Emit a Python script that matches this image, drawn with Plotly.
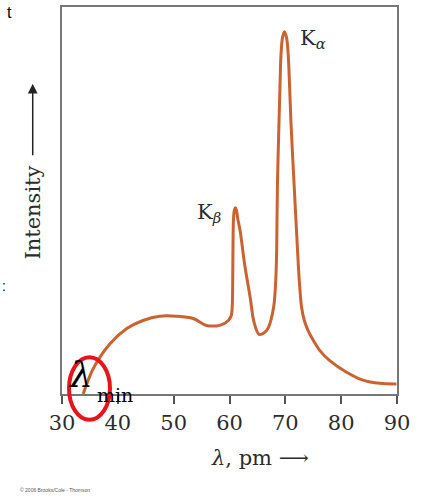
import plotly.graph_objects as go

# wavelength (pm) and relative intensity
wavelength = [33.8, 35.6, 38.6, 41.6, 44.5, 47.5, 50.5, 53.5, 55.9, 57.7, 58.6, 59.8,
              60.3, 60.5, 60.58, 60.64, 60.72, 60.88, 61.05, 61.25, 61.45, 61.9, 62.7, 63.7,
              64.4, 65.3, 66.2, 67.0, 67.9, 68.28, 68.46, 68.58, 68.87, 69.05, 69.22,
              69.48, 69.83, 70.2, 70.5, 70.75, 71.0, 71.6, 72.0, 72.5, 72.9, 73.4, 74.1,
              75.0, 76.3, 77.9, 80.9, 83.9, 86.9, 89.9]
intensity = [0, 6.6, 13.0, 16.9, 19.0, 20.1, 20.1, 19.5, 17.7, 17.6, 17.9, 19.0,
             20.2, 23.0, 30.0, 40.0, 45.3, 47.6, 48.1, 47.5, 45.5, 42.2, 33.6, 25.0,
             18.5, 15.4, 15.8, 17.3, 22.4, 29.3, 37.9, 53.3, 70.4, 80.0, 87.6,
             92.0, 93.6, 92.2, 88.0, 80.0, 70.4, 53.3, 42.2, 29.3, 22.5, 19.0, 16.3,
             13.9, 11.0, 8.7, 5.7, 3.6, 2.75, 2.6]

tick_vals = [30, 40, 50, 60, 70, 80, 90]
tick_labels = ["30", "40", "50", "60", "70", "80", "90"]
tick_marks = [40, 50, 60, 70, 80]

SERIF = "DejaVu Serif"
INK = "#2c2c2c"

fig = go.Figure()
fig.add_trace(go.Scatter(
    x=wavelength, y=intensity, mode="lines",
    line=dict(color="#CC6230", width=3, shape="spline", smoothing=1.0),
    hoverinfo="skip", showlegend=False,
))

fig.update_layout(
    width=425, height=499,
    margin=dict(l=62, r=27.5, t=5, b=105),
    paper_bgcolor="white", plot_bgcolor="white",
    showlegend=False,
    xaxis=dict(
        range=[30, 90], tickvals=tick_vals, ticktext=tick_labels,
        ticks="outside", ticklen=8, tickwidth=1.5, tickcolor="#555555",
        showline=True, mirror=True, linecolor="#777777", linewidth=1.5,
        showgrid=False, zeroline=False,
        tickfont=dict(family=SERIF, size=21, color=INK),
        ticklabelstandoff=1,
    ),
    xaxis2=dict(
        range=[30, 90], overlaying="x", anchor="y", side="bottom",
        tickvals=tick_marks, ticks="inside", ticklen=7, tickwidth=1.5,
        tickcolor="#555555", showticklabels=False, showgrid=False,
        zeroline=False, showline=False,
    ),
    yaxis=dict(
        range=[0, 100], showticklabels=False, ticks="",
        showline=True, mirror=True, linecolor="#777777", linewidth=1.5,
        showgrid=False, zeroline=False,
    ),
)

ann = []
# K alpha / K beta labels
ann.append(dict(x=72.2, y=91.8, xref="x", yref="y", xanchor="left", yanchor="middle",
                text="K<sub><i>α</i></sub>", showarrow=False,
                font=dict(family=SERIF, size=21, color=INK)))
ann.append(dict(x=58.9, y=46.8, xref="x", yref="y", xanchor="right", yanchor="middle",
                text="K<sub><i>β</i></sub>", showarrow=False,
                font=dict(family=SERIF, size=21, color=INK)))
# x axis title
ann.append(dict(x=0.5905, y=-0.1645, xref="paper", yref="paper",
                xanchor="center", yanchor="middle",
                text="<i>λ</i>, pm ⟶", showarrow=False,
                font=dict(family=SERIF, size=21, color=INK)))
# y axis title with arrow
ann.append(dict(x=-0.0874, y=0.468, xref="paper", yref="paper",
                xanchor="center", yanchor="middle", textangle=-90,
                text="Intensity", showarrow=False,
                font=dict(family=SERIF, size=21, color=INK)))
ann.append(dict(x=-0.0874, y=0.802, xref="paper", yref="paper",
                ax=0, ay=73, text="", showarrow=True,
                arrowhead=2, arrowsize=1.3, arrowwidth=1.5, arrowcolor="#222222"))
# lambda_min
ann.append(dict(x=0.0567, y=0.05, xref="paper", yref="paper",
                xanchor="center", yanchor="middle",
                text="<i>λ</i>", showarrow=False,
                font=dict(family=SERIF, size=36, color="black")))
ann.append(dict(x=0.157, y=-0.002, xref="paper", yref="paper",
                xanchor="center", yanchor="middle",
                text="min", showarrow=False,
                font=dict(family=SERIF, size=19, color="black")))
# copyright
ann.append(dict(x=-0.131, y=-0.249, xref="paper", yref="paper",
                xanchor="left", yanchor="middle",
                text="© 2006 Brooks/Cole - Thomson", showarrow=False,
                font=dict(family="Liberation Sans", size=5, color="#555555")))
# cropped slide text fragments
ann.append(dict(x=-0.17, y=1.012, xref="paper", yref="paper",
                xanchor="left", yanchor="top",
                text="t", showarrow=False,
                font=dict(family="Liberation Sans", size=16, color="black")))
ann.append(dict(x=-0.185, y=0.278, xref="paper", yref="paper",
                xanchor="left", yanchor="middle",
                text=":", showarrow=False,
                font=dict(family="Liberation Sans", size=14, color="black")))
fig.update_layout(annotations=ann)

fig.add_shape(type="circle", xref="paper", yref="paper",
              x0=0.0209, x1=0.1432, y0=-0.0668, y1=0.0951,
              line=dict(color="#E8141A", width=4))

fig.write_html("out.html",
               config={"displayModeBar": False},
               post_script="document.body.style.margin='0';document.body.style.overflow='hidden';")
